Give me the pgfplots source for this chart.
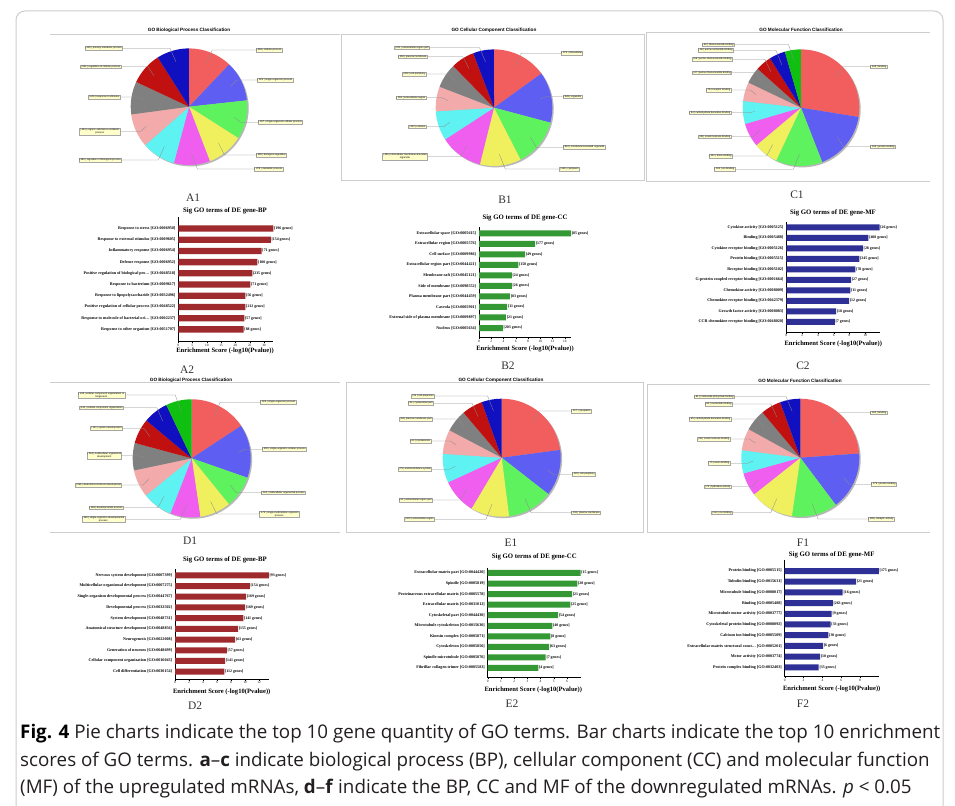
\documentclass[border=0pt]{standalone}
\usepackage{pgfplots}
\pgfplotsset{compat=1.18}
\usepackage{pgfplotstable}
\usepackage{fontspec}
\setmainfont{Liberation Serif}
\newfontfamily\piefont{Liberation Sans}
\newfontfamily\capfont{Open Sans}

\definecolor{pr}{RGB}{242,94,94}
\definecolor{pb}{RGB}{94,94,242}
\definecolor{pg}{RGB}{94,242,94}
\definecolor{py}{RGB}{240,240,94}
\definecolor{pm}{RGB}{240,94,240}
\definecolor{pc}{RGB}{94,242,242}
\definecolor{pp}{RGB}{242,170,170}
\definecolor{pgr}{RGB}{128,128,128}
\definecolor{pdr}{RGB}{192,16,16}
\definecolor{pdb}{RGB}{16,16,192}
\definecolor{pdg}{RGB}{16,192,16}
\definecolor{bpc}{RGB}{158,42,46}
\definecolor{ccc}{RGB}{52,152,52}
\definecolor{mfc}{RGB}{46,48,150}
\definecolor{boxy}{RGB}{255,255,204}
\definecolor{frm}{RGB}{205,205,205}
\definecolor{captxt}{RGB}{35,31,32}

% ---------- bar chart data ----------
\pgfplotstableread{
i v g
1 33.3 196
2 32.4 154
3 29.2 71
4 27.7 100
5 25.9 235
6 25.2 71
7 23.5 56
8 23.5 212
9 23.1 57
10 22.9 88
}\tabAtwo
\pgfplotstableread{
i v g
1 15.0 85
2 9.15 177
3 7.5 49
4 6.4 150
5 5.35 24
6 5.35 26
7 5.05 83
8 4.6 11
9 4.4 21
10 3.9 203
}\tabBtwo
\pgfplotstableread{
i v g
1 11.8 26
2 10.4 408
3 9.7 28
4 9.25 245
5 8.75 78
6 8.2 27
7 8.1 11
8 7.95 12
9 6.3 18
10 6.15 7
}\tabCtwo
\pgfplotstableread{
i v g
1 13.4 93
2 10.7 154
3 10.15 169
4 10.0 169
5 9.75 141
6 9.0 155
7 8.6 63
8 7.4 57
9 7.15 141
10 7.05 112
}\tabDtwo
\pgfplotstableread{
i v g
1 7.03 15
2 6.78 20
3 6.38 21
4 6.25 25
5 5.32 54
6 4.89 40
7 4.74 8
8 4.64 63
9 4.39 7
10 3.83 4
}\tabEtwo
\pgfplotstableread{
i v g
1 10.0 175
2 7.58 21
3 6.16 16
4 5.1 263
5 4.99 9
6 4.88 33
7 4.64 30
8 4.07 6
9 3.75 10
10 3.61 35
}\tabFtwo

% ---------- pie data: value/colour/label/box x/box y/side ----------
\def\pieA{458/pr/cellular process/255.7/50/1,
423/pb/single-organism process/257/80/1,
407/pg/single-organism cellular process/258/122.3/1,
385/py/biological regulation/255.7/155/1,
378/pm/metabolic process/254/169/1,
355/pc/regulation of biological process/121.7/160/-1,
353/pp/organic substance metabolic\\process/120/131.7/-1,
345/pgr/response to stimulus/120/97/-1,
342/pdr/regulation of cellular process/121/66.7/-1,
340/pdb/primary metabolic process/122.7/48.3/-1}
\def\pieB{575/pr/intracellular/561/53.3/1,
538/pb/organelle/562.7/96.7/1,
510/pg/membrane-bounded organelle/562.7/147.3/1,
436/py/cytoplasm/559.3/169/1,
456/pm/intracellular membrane-bounded\\organelle/427.3/156.7/-1,
312/pc/nucleus/426/126.7/-1,
262/pp/extracellular region/426/97.7/-1,
260/pgr/cell periphery/426/74/-1,
250/pdr/plasma membrane/427.3/56.7/-1,
221/pdb/extracellular region part/429.3/47.7/-1}
\def\pieC{408/pr/binding/870/66.7/1,
245/pb/protein binding/870/146.7/1,
191/pg/ion binding/735/169.3/-1,
102/py/anion binding/732.3/156/-1,
98/pm/small molecule binding/731/136.7/-1,
94/pc/carbohydrate derivative binding/731/112.7/-1,
78/pp/receptor binding/731/90/-1,
67/pgr/purine ribonucleotide binding/731.7/72.7/-1,
66/pdr/purine ribonucleoside binding/732.3/59.3/-1,
66/pdb/purine nucleotide binding/733.3/50.3/-1,
66/pdg/ribonucleoside binding/734.3/44.5/-1}
\def\pieD{323/pr/single-organism process/260/402.3/1,
300/pb/single-organism cellular process/261.7/449.3/1,
181/pg/multicellular organismal process/261/492.7/1,
175/py/single-multicellular organism\\process/259/514/1,
169/pm/single-organism developmental\\process/125/519.3/-1,
169/pc/developmental process/123.3/507.7/-1,
155/pp/anatomical structure development/121.7/485/-1,
154/pgr/multicellular organismal\\development/121.7/455.7/-1,
141/pdr/system development/122.3/428.3/-1,
141/pdb/cellular component organization/123.3/407.7/-1,
145/pdg/cellular component organization or\\biogenesis/125/395/-1}
\def\pieE{217/pr/cytoplasm/571/411/1,
120/pb/cell periphery/571.7/474.3/1,
118/pg/plasma membrane/571/512.7/1,
100/py/extracellular region/434.3/519.3/-1,
91/pm/extracellular region part/432.3/500/-1,
75/pc/endomembrane system/431.7/469.3/-1,
63/pp/cytoskeleton/431/441/-1,
58/pgr/plasma membrane part/432.3/419/-1,
54/pdr/cytoskeletal part/433.3/403.3/-1,
52/pdb/cell projection/434.3/396/-1}
\def\pieF{263/pr/binding/870/412.7/1,
175/pb/protein binding/871/484.3/1,
138/pg/catalytic activity/867.7/519/1,
133/py/ion binding/732.3/512.7/-1,
70/pm/hydrolase activity/731/486.7/-1,
70/pc/anion binding/730/463.3/-1,
66/pp/small molecule binding/730/439/-1,
65/pgr/carbohydrate derivative binding/731/419/-1,
61/pdr/nucleotide binding/732.3/404/-1,
61/pdb/nucleoside phosphate binding/734.3/396.7/-1}

\tikzset{pbox/.style={draw=black!35, fill=boxy, line width=0.25bp, inner sep=0.6bp,
  align=center, font=\piefont\fontsize{2.5}{2.9}\selectfont},
  px/.style={shift={(0,806)}, yscale=-1}}

% #1 cx, #2 cy (pixels from top), #3 radius, #4 list
\newcommand{\drawpie}[4]{%
  \gdef\pietot{0}%
  \foreach \pVal/\pCol/\pTxt/\pLx/\pLy/\pSide in #4 {\pgfmathparse{\pietot+\pVal}\xdef\pietot{\pgfmathresult}}%
  \path[px] (#1,#2) coordinate (piectr);
  \begin{axis}[hide axis, scale only axis, clip=false, width=2*#3bp, height=2*#3bp,
     xmin=-1, xmax=1, ymin=-1, ymax=1, at={(piectr)}, anchor=center]
    \addplot[draw=none, forget plot] coordinates {(0,0)};
    \pgfplotsextra{%
      \fill[black!28] (axis cs:0,0) ++(1.4bp,-1.4bp) circle[radius=#3bp];
      \gdef\pieang{90}%
      \foreach \pVal/\pCol/\pTxt/\pLx/\pLy/\pSide in #4 {%
        \pgfmathsetmacro\pieend{\pieang-\pVal/\pietot*360}%
        \fill[\pCol] (axis cs:0,0) -- ++(\pieang:#3bp) arc[start angle=\pieang, end angle=\pieend, radius=#3bp] -- cycle;
        \xdef\pieang{\pieend}%
      }%
    }
  \end{axis}
  \begin{scope}[px]
  \gdef\pieang{90}%
  \foreach \pVal/\pCol/\pTxt/\pLx/\pLy/\pSide in #4 {%
    \pgfmathsetmacro\pieend{\pieang-\pVal/\pietot*360}%
    \pgfmathsetmacro\pmid{(\pieang+\pieend)/2}%
    \pgfmathsetmacro\ppx{#1+0.8*#3*cos(\pmid)}%
    \pgfmathsetmacro\ppy{#2-0.8*#3*sin(\pmid)}%
    \pgfmathsetmacro\pex{\ppx+6*\pSide}%
    \ifnum\pSide>0 \def\panc{west}\else\def\panc{east}\fi
    \draw[black!45, line width=0.3bp] (\ppx,\ppy) -- (\pex,\pLy) -- (\pLx,\pLy);
    \node[pbox, anchor=\panc] at (\pLx,\pLy) {| \pVal{} | \pTxt};
    \xdef\pieang{\pieend}%
  }%
  \end{scope}
}

\pgfplotsset{
  gobar/.style={
    xbar, scale only axis, axis lines*=left, y dir=reverse,
    enlargelimits=false, clip=false,
    ytick={1,...,10}, ytick style={draw=none},
    xtick style={black, line width=0.3bp}, major tick length=1.6bp, tick align=outside,
    axis line style={black, line width=0.45bp},
    /pgf/number format/assume math mode=true,
    x tick label style={font=\fontsize{3.4}{4}\selectfont, inner sep=0.6bp},
    y tick label style={font=\fontsize{4.1}{5}\selectfont\bfseries, inner sep=1.2bp},
    point meta=explicit,
    nodes near coords={\relax[\pgfmathprintnumber{\pgfplotspointmeta}~genes]},
    nodes near coords style={font=\fontsize{3.9}{4.5}\selectfont\bfseries, anchor=west, inner sep=0.6bp},
    bar width=6bp,
  },
}

\begin{document}
\begin{tikzpicture}[x=1bp,y=1bp]
\begin{scope}[px]
\useasboundingbox (0,0) rectangle (955,806);
\fill[white] (0,0) rectangle (955,806);
\draw[frm, line width=1bp, rounded corners=9bp] (16,11) rectangle (943,840);

% panel frames
\draw[frm, line width=0.7bp] (50,34.3) -- (340,34.3);
\draw[frm, line width=0.7bp] (341.7,34.3) rectangle (644,180);
\draw[frm, line width=0.7bp] (930,32.3) -- (646.7,32.3) -- (646.7,181) -- (930,181);
\draw[frm, line width=0.7bp] (50,382.7) -- (340,382.7);
\draw[frm, line width=0.7bp] (50,532.3) -- (340,532.3);
\draw[frm, line width=0.7bp] (346.7,382.7) rectangle (643.3,532.3);
\draw[frm, line width=0.7bp] (930,384) -- (647,384) -- (647,532.3) -- (930,532.3);

% pie titles
\begin{scope}[every node/.style={font=\piefont\bfseries\fontsize{4.7}{5}\selectfont}]
\node at (189,30.5) {GO Biological Process Classification};
\node at (494,30.5) {GO Cellular Component Classification};
\node at (801,29.5) {GO Molecular Function Classification};
\node at (191,380) {GO Biological Process Classification};
\node at (501,380) {GO Cellular Component Classification};
\node at (800,380.5) {GO Molecular Function Classification};
\end{scope}

% anchor points of the bar charts (lower left corner of each axis box)
\coordinate (bA) at (178.3,341.7);
\coordinate (bB) at (479,337.7);
\coordinate (bC) at (786.3,332.3);
\coordinate (bD) at (175,679.3);
\coordinate (bE) at (487.7,677.7);
\coordinate (bF) at (784.7,676.7);
\end{scope}

% pies
\drawpie{189}{106.7}{58.3}{\pieA}
\drawpie{494}{107.7}{58.3}{\pieB}
\drawpie{801}{107.7}{58.3}{\pieC}
\drawpie{191.7}{458.3}{59}{\pieD}
\drawpie{501.7}{457.7}{59}{\pieE}
\drawpie{800.3}{457.7}{59}{\pieF}

% ---------- bar charts ----------
\begin{axis}[gobar, at={(bA)}, anchor=south west, width=95.1bp, height=124.4bp,
  xmin=0, xmax=33.3, ymin=0, ymax=11.1, xtick={0,5,...,30}, bar width=6.3bp,
  yticklabels={{Response to stress [GO:0006950]}, {Response to external stimulus [GO:0009605]}, {Inflammatory response [GO:0006954]}, {Defense response [GO:0006952]}, {Positive regulation of biological pro\ldots{} [GO:0048518]}, {Response to bacterium [GO:0009617]}, {Response to lipopolysaccharide [GO:0032496]}, {Positive regulation of cellular process [GO:0048522]}, {Response to molecule of bacterial ori\ldots{} [GO:0002237]}, {Response to other organism [GO:0051707]}}]
\addplot[fill=bpc, draw=none] table[x=v,y=i,meta=g]{\tabAtwo};
\end{axis}

\begin{axis}[gobar, at={(bB)}, anchor=south west, width=92bp, height=110.4bp,
  xmin=0, xmax=15.0, ymin=0.43, ymax=10.92, xtick={0,2,...,14},
  yticklabels={{Extracellular space [GO:0005615]}, {Extracellular region [GO:0005576]}, {Cell surface [GO:0009986]}, {Extracellular region part [GO:0044421]}, {Membrane raft [GO:0045121]}, {Side of membrane [GO:0098552]}, {Plasma membrane part [GO:0044459]}, {Caveola [GO:0005901]}, {External side of plasma membrane [GO:0009897]}, {Nucleus [GO:0005634]}}]
\addplot[fill=ccc, draw=none] table[x=v,y=i,meta=g]{\tabBtwo};
\end{axis}

\begin{axis}[gobar, at={(bC)}, anchor=south west, width=93.2bp, height=110bp,
  xmin=0, xmax=11.8, ymin=0.52, ymax=10.98, xtick={0,2,...,10},
  yticklabels={{Cytokine activity [GO:0005125]}, {Binding [GO:0005488]}, {Cytokine receptor binding [GO:0005126]}, {Protein binding [GO:0005515]}, {Receptor binding [GO:0005102]}, {G-protein coupled receptor binding [GO:0001664]}, {Chemokine activity [GO:0008009]}, {Chemokine receptor binding [GO:0042379]}, {Growth factor activity [GO:0008083]}, {CCR chemokine receptor binding [GO:0048020]}}]
\addplot[fill=mfc, draw=none] table[x=v,y=i,meta=g]{\tabCtwo};
\end{axis}

\begin{axis}[gobar, at={(bD)}, anchor=south west, width=93.8bp, height=110.3bp,
  xmin=0, xmax=13.4, ymin=0.41, ymax=10.71, xtick={0,2,...,12},
  yticklabels={{Nervous system development [GO:0007399]}, {Multicellular organismal development [GO:0007275]}, {Single-organism developmental process [GO:0044767]}, {Developmental process [GO:0032502]}, {System development [GO:0048731]}, {Anatomical structure development [GO:0048856]}, {Neurogenesis [GO:0022008]}, {Generation of neurons [GO:0048699]}, {Cellular component organization [GO:0016043]}, {Cell differentiation [GO:0030154]}}]
\addplot[fill=bpc, draw=none] table[x=v,y=i,meta=g]{\tabDtwo};
\end{axis}

\begin{axis}[gobar, at={(bE)}, anchor=south west, width=92.9bp, height=110bp,
  xmin=0, xmax=7.03, ymin=0.5, ymax=10.92, xtick={0,1,...,6},
  yticklabels={{Extracellular matrix part [GO:0044420]}, {Spindle [GO:0005819]}, {Proteinaceous extracellular matrix [GO:0005578]}, {Extracellular matrix [GO:0031012]}, {Cytoskeletal part [GO:0044430]}, {Microtubule cytoskeleton [GO:0015630]}, {Kinesin complex [GO:0005871]}, {Cytoskeleton [GO:0005856]}, {Spindle microtubule [GO:0005876]}, {Fibrillar collagen trimer [GO:0005583]}}]
\addplot[fill=ccc, draw=none] table[x=v,y=i,meta=g]{\tabEtwo};
\end{axis}

\begin{axis}[gobar, at={(bF)}, anchor=south west, width=94.2bp, height=116.7bp,
  xmin=0, xmax=10.0, ymin=-0.03, ymax=10.88, xtick={0,2,...,8},
  yticklabels={{Protein binding [GO:0005515]}, {Tubulin binding [GO:0015631]}, {Microtubule binding [GO:0008017]}, {Binding [GO:0005488]}, {Microtubule motor activity [GO:0003777]}, {Cytoskeletal protein binding [GO:0008092]}, {Calcium ion binding [GO:0005509]}, {Extracellular matrix structural const\ldots{} [GO:0005201]}, {Motor activity [GO:0003774]}, {Protein complex binding [GO:0032403]}}]
\addplot[fill=mfc, draw=none] table[x=v,y=i,meta=g]{\tabFtwo};
\end{axis}

\begin{scope}[px]
% bar chart titles and axis labels
\begin{scope}[every node/.style={font=\fontsize{6.8}{8}\selectfont\bfseries}]
\node at (225,210.7) {Sig GO terms of DE gene-BP};
\node at (525,217.7) {Sig GO terms of DE gene-CC};
\node at (833,212.7) {Sig GO terms of DE gene-MF};
\node at (225,559.7) {Sig GO terms of DE gene-BP};
\node at (534.3,557.3) {Sig GO terms of DE gene-CC};
\node at (831.7,555) {Sig GO terms of DE gene-MF};
\end{scope}
\begin{scope}[every node/.style={font=\fontsize{6.6}{8}\selectfont\bfseries}]
\node at (225,351) {Enrichment Score (-log10(Pvalue))};
\node at (525,349.3) {Enrichment Score (-log10(Pvalue))};
\node at (833.3,344) {Enrichment Score (-log10(Pvalue))};
\node at (221.7,691.7) {Enrichment Score (-log10(Pvalue))};
\node at (533.3,689.7) {Enrichment Score (-log10(Pvalue))};
\node at (831.7,689) {Enrichment Score (-log10(Pvalue))};
\end{scope}

% panel letters
\begin{scope}[every node/.style={font=\fontsize{11.5}{12}\selectfont, text=black!80}]
\node at (193,198) {A1};
\node at (505,200) {B1};
\node at (797,195) {C1};
\node at (187,370) {A2};
\node at (508,366) {B2};
\node at (803,366) {C2};
\node at (190,541) {D1};
\node at (511,543) {E1};
\node at (803,543) {F1};
\node at (195,706) {D2};
\node at (512,704) {E2};
\node at (803,704) {F2};
\end{scope}

% caption
\begin{scope}[every node/.style={anchor=base west, inner sep=0pt, text=captxt, font=\capfont\fontsize{18.85}{22}\selectfont}]
\node at (20,739) {\textcolor{black}{\bfseries Fig. 4} Pie charts indicate the top 10 gene quantity of GO terms. Bar charts indicate the top 10 enrichment};
\node at (20,766.5) {scores of GO terms. \textbf{a}–\textbf{c} indicate biological process (BP), cellular component (CC) and molecular function};
\node at (20,794) {(MF) of the upregulated mRNAs, \textbf{d}–\textbf{f} indicate the BP, CC and MF of the downregulated mRNAs. \textit{p} < 0.05};
\end{scope}
\end{scope}
\end{tikzpicture}
\end{document}
